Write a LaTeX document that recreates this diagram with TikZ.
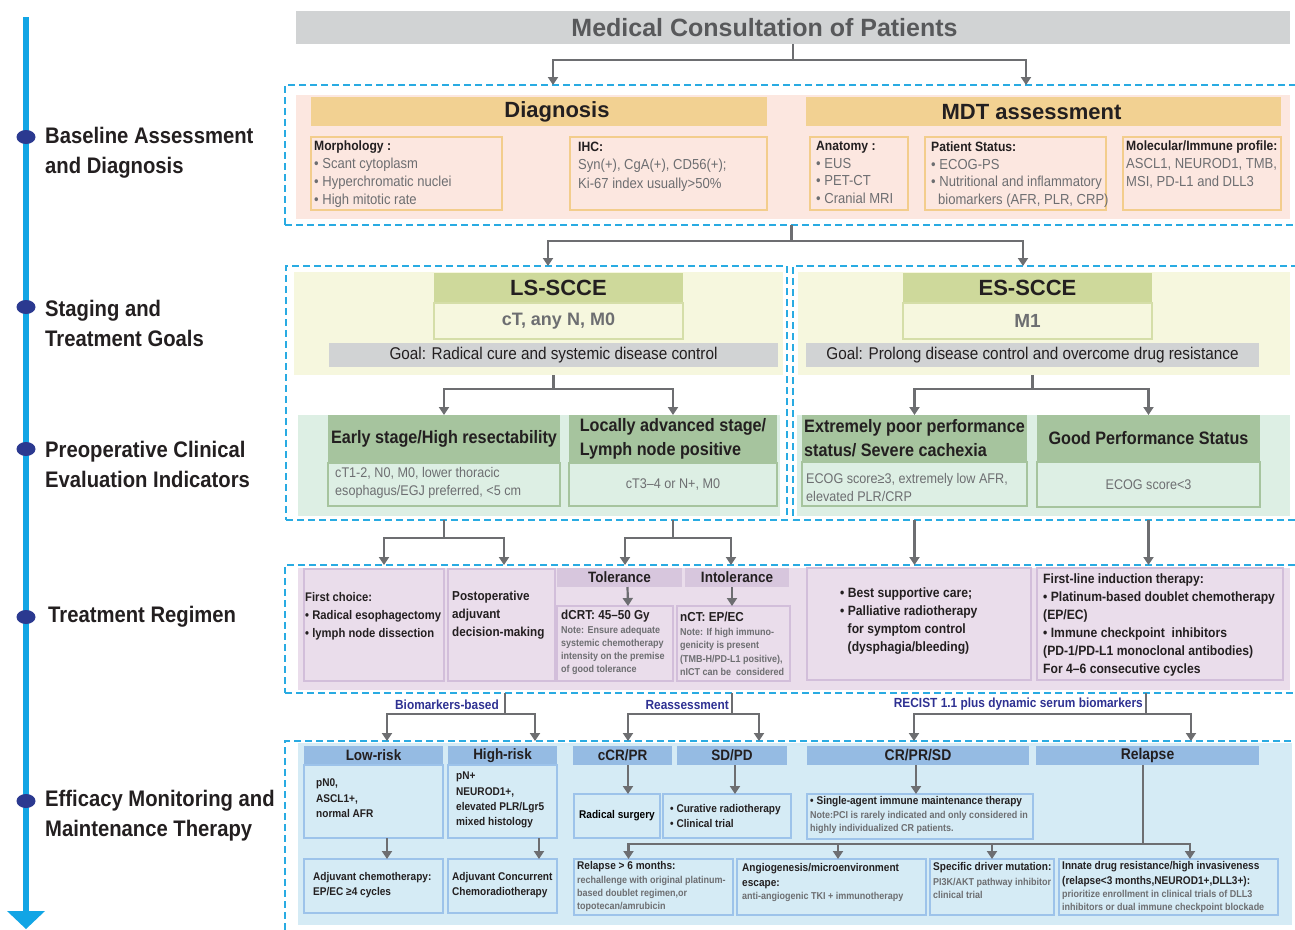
\documentclass[tikz,border=0pt]{standalone}
\usepackage{fontspec}
\setmainfont{Liberation Sans}
\newfontfamily\nfont{Liberation Sans}[FakeStretch=0.9]
\usetikzlibrary{arrows.meta}
\newcommand\setfs[2]{\nfont\fontsize{#1}{#2}\selectfont}

\definecolor{tdark}{HTML}{231F20}
\definecolor{tgray}{HTML}{6D6E71}
\definecolor{titg}{HTML}{58595B}
\definecolor{tblue}{HTML}{2E3192}
\definecolor{dashc}{HTML}{29ABE2}
\definecolor{barg}{HTML}{D1D3D4}
\definecolor{pinkbg}{HTML}{FCE7E0}
\definecolor{tanh}{HTML}{F2D192}
\definecolor{tanb}{HTML}{F3CD8C}
\definecolor{yelbg}{HTML}{F6F7DE}
\definecolor{olive}{HTML}{CED99B}
\definecolor{olivb}{HTML}{D5DEA8}
\definecolor{grnbg}{HTML}{DDEFE4}
\definecolor{sage}{HTML}{A6C49E}
\definecolor{purbg}{HTML}{EADDEB}
\definecolor{purb}{HTML}{D2BEDA}
\definecolor{purh}{HTML}{D7C6DD}
\definecolor{blubg}{HTML}{D5EBF5}
\definecolor{bluh}{HTML}{95BBE3}
\definecolor{blub}{HTML}{9DC3EA}
\definecolor{linec}{HTML}{6D6E71}
\definecolor{axisc}{HTML}{12A5E5}
\definecolor{dotc}{HTML}{2B3990}

\begin{document}
\begin{tikzpicture}[x=1pt, y=-1pt,
    sz/.style 2 args={minimum width=#1pt, minimum height=#2pt},
    rbox/.style={rectangle, inner sep=0pt, outer sep=0pt},
    section/.style={rbox, draw=dashc, line width=1.6pt, dash pattern=on 7pt off 4pt},
    panel/.style={rbox, fill=#1},
    head/.style={rbox, fill=#1, text=tdark},
    cell/.style={rbox, draw=#1, line width=1.2pt},
    body/.style={inner sep=0pt, anchor=west, align=left, text=tdark},
    bighead/.style={inner sep=0pt, text=tdark, font=\bfseries\fontsize{22}{26}\selectfont},
    note/.style={body, text=tgray, font=\setfs{10}{13}\bfseries},
    stage/.style={body, font=\setfs{22.5}{30}\bfseries},
    lbl/.style={inner sep=0pt, anchor=east, text=tblue, font=\setfs{13.2}{16}\bfseries},
    link/.style={draw=linec, line width=2.2pt},
    conn/.style={link, -{Triangle[width=10pt,length=8pt]}}]
\useasboundingbox (0,0) rectangle (1295,929);

% timeline
\draw[axisc, line width=6pt] (26,17) -- (26,913);
\fill[axisc] (7,911) -- (45,911) -- (26,929) -- cycle;
\foreach \yy in {137,307,449,617,801}
  \fill[dotc] (26,\yy) ellipse [x radius=9.5pt, y radius=7pt];
\node[stage] (st1) at (45,153) {Baseline Assessment\\and Diagnosis};
\node[stage] (st2) at (45,323) {Staging and\\Treatment Goals};
\node[stage] (st3) at (45,464.5) {Preoperative Clinical\\Evaluation Indicators};
\node[stage] (st4) at (48,617) {Treatment Regimen};
\node[stage] (st5) at (45,816) {Efficacy Monitoring and\\Maintenance Therapy};

% consultation
\node[head=barg, sz={994}{33}] (title) at (793,27.5) {};
\node[inner sep=0pt, text=titg, font=\bfseries\fontsize{25}{30}\selectfont] (titleT) at (764.5,27.5) {Medical Consultation of Patients};

% baseline assessment
\node[section, sz={1013}{140}] (sec1) at (791.5,155) {};
\node[panel=pinkbg, sz={994}{124}] (base) at (793,157) {};
\node[head=tanh, sz={456}{29}] (diag) at (539,111.5) {};
\node[head=tanh, sz={475}{29}] (mdt) at (1043.5,111.5) {};
\node[bighead] (diagT) at (557,112) {Diagnosis};
\node[bighead] (mdtT) at (1031.5,112) {MDT assessment};
\node[cell=tanb, sz={191}{73}] (morph) at (406.5,173.5) {};
\node[cell=tanb, sz={197}{73}] (ihc) at (668.5,173.5) {};
\node[cell=tanb, sz={98}{73}] (anat) at (859,173.5) {};
\node[cell=tanb, sz={181}{73}] (pstat) at (1015.5,173.5) {};
\node[cell=tanb, sz={158}{73}] (molec) at (1202,173.5) {};
\node[body, text=tgray, font=\setfs{14.5}{18}] (morphT) at (314,174) {\textcolor{tdark}{\fontsize{13.5}{18}\bfseries Morphology :}\\• Scant cytoplasm\\• Hyperchromatic nuclei\\• High mitotic rate};
\node[body, text=tgray, font=\setfs{14.5}{18.5}] (ihcT) at (578,166.5) {\textcolor{tdark}{\fontsize{13.5}{18.5}\bfseries IHC:}\\Syn(+), CgA(+), CD56(+);\\Ki-67 index usually>50\%};
\node[body, text=tgray, font=\setfs{14.5}{17.7}] (anatT) at (816,172.5) {\textcolor{tdark}{\fontsize{13.5}{17.7}\bfseries Anatomy :}\\• EUS\\• PET-CT\\• Cranial MRI};
\node[body, text=tgray, font=\setfs{14.5}{17.7}] (pstatT) at (931,174.5) {\textcolor{tdark}{\fontsize{13.5}{17.7}\bfseries Patient Status:}\\• ECOG-PS\\• Nutritional and inflammatory\\\hspace*{7pt}biomarkers (AFR, PLR, CRP)};
\node[body, text=tgray, font=\setfs{14.5}{18}] (molecT) at (1126,165) {\textcolor{tdark}{\fontsize{13.5}{18}\bfseries Molecular/Immune profile:}\\ASCL1, NEUROD1, TMB,\\MSI, PD-L1 and DLL3};

\coordinate (in1a) at (553,85);
\coordinate (in1b) at (1026,85);
\draw[conn] (title.south) -- ++(0,16) -| (in1a);
\draw[conn] (title.south) -- ++(0,16) -| (in1b);

% staging
\node[section, sz={501}{254}] (secL) at (536.5,393) {};
\node[section, sz={505}{254}] (secR) at (1045.5,393) {};
\coordinate (in2a) at (548,266);
\coordinate (in2b) at (1023,266);
\draw[conn] (sec1.south) -- ++(0,16) -| (in2a);
\draw[conn] (sec1.south) -- ++(0,16) -| (in2b);

\node[panel=yelbg, sz={489}{103}] (stgL) at (538.5,323.5) {};
\node[panel=yelbg, sz={492}{103}] (stgR) at (1044,323.5) {};
\node[head=olive, sz={249}{30}, font=\bfseries\fontsize{22}{26}\selectfont] (lsH) at (558.5,288) {LS-SCCE};
\node[cell=olivb, fill=yelbg, sz={249}{36}, text=tgray, font=\bfseries\fontsize{18}{22}\selectfont] (lsS) at (558.5,321) {cT, any N, M0};
\node[head=barg, sz={449}{24}, font=\setfs{17}{20}] (lsG) at (553.5,355) {Goal: Radical cure and systemic disease control};
\node[head=olive, sz={249}{30}, font=\bfseries\fontsize{22}{26}\selectfont] (esH) at (1027.5,288) {ES-SCCE};
\node[cell=olivb, fill=yelbg, sz={249}{36}, text=tgray, font=\bfseries\fontsize{19}{22}\selectfont] (esS) at (1027.5,321) {M1};
\node[head=barg, sz={453}{24}, font=\setfs{17}{20}] (esG) at (1032.5,355) {Goal: Prolong disease control and overcome drug resistance};

% preoperative evaluation
\node[panel=grnbg, sz={482}{101}] (prepL) at (539,465.5) {};
\node[panel=grnbg, sz={493}{101}] (prepR) at (1043.5,465.5) {};
\node[head=sage, sz={232}{48}, align=left, font=\setfs{18}{24}\bfseries] (earlyH) at (444,439) {Early stage/High resectability};
\node[head=sage, sz={208}{48}, align=left, font=\setfs{18}{24}\bfseries] (locH) at (673,439) {Locally advanced stage/\\Lymph node positive};
\node[head=sage, sz={225}{47}, align=left, font=\setfs{18}{24}\bfseries] (poorH) at (914.5,438.5) {Extremely poor performance\\status/ Severe cachexia};
\node[head=sage, sz={223}{47}, align=left, font=\setfs{18}{24}\bfseries] (goodH) at (1148.5,438.5) {Good Performance Status};
\node[cell=sage, fill=grnbg, sz={232}{43}] (earlyS) at (444,484.5) {};
\node[cell=sage, fill=grnbg, sz={208}{43}, text=tgray, font=\setfs{14}{18}] (locS) at (673,484.5) {cT3–4 or N+, M0};
\node[cell=sage, fill=grnbg, sz={225}{44}] (poorS) at (914.5,484) {};
\node[cell=sage, fill=grnbg, sz={223}{45}, text=tgray, font=\setfs{14}{18}] (goodS) at (1148.5,484.5) {ECOG score<3};
\node[body, text=tgray, font=\setfs{14}{18}] (earlyT) at (335,483) {cT1-2, N0, M0, lower thoracic\\esophagus/EGJ preferred, <5 cm};
\node[body, text=tgray, font=\setfs{14}{18}] (poorT) at (806,487) {ECOG score≥3, extremely low AFR,\\elevated PLR/CRP};

\draw[conn] (lsG.south |- stgL.south) -- ++(0,14) -| (earlyH.north);
\draw[conn] (lsG.south |- stgL.south) -- ++(0,14) -| (locH.north);
\draw[conn] (esG.south |- stgR.south) -- ++(0,14) -| (poorH.north);
\draw[conn] (esG.south |- stgR.south) -- ++(0,14) -| (goodH.north);

% treatment regimen
\node[section, sz={1013}{128}] (sec4) at (791.5,629) {};
\node[panel=purbg, sz={992}{122}] (trt) at (794,629) {};
\node[cell=purb, sz={140}{112}] (first) at (374,625) {};
\node[cell=purb, sz={107}{112}] (postop) at (501.5,625) {};
\node[head=purh, sz={125}{19}, font=\setfs{15}{18}\bfseries] (tolH) at (619.5,577.5) {Tolerance};
\node[head=purh, sz={104}{19}, font=\setfs{15}{18}\bfseries] (intH) at (737,577.5) {Intolerance};
\node[cell=purb, sz={116}{75}] (dcrt) at (615,643.5) {};
\node[cell=purb, sz={113}{75}] (nct) at (733.5,643.5) {};
\node[cell=purb, sz={224}{112}] (best) at (919,624) {};
\node[cell=purb, sz={246}{112}] (fline) at (1160,624) {};
\node[body, font=\setfs{12.5}{18}\bfseries] (firstT) at (305,616) {First choice:\\• Radical esophagectomy\\• lymph node dissection};
\node[body, font=\setfs{13}{18}\bfseries] (postopT) at (452,615) {Postoperative\\adjuvant\\decision-making};
\node[body, font=\setfs{13}{18}\bfseries] (dcrtT) at (561,616) {dCRT: 45–50 Gy};
\node[note] (dcrtN) at (561,650.5) {Note: Ensure adequate\\systemic chemotherapy\\intensity on the premise\\of good tolerance};
\node[body, font=\setfs{13}{18}\bfseries] (nctT) at (680,617) {nCT: EP/EC};
\node[note, font=\setfs{10}{13.3}\bfseries] (nctN) at (680,652) {Note: If high immuno-\\genicity is present\\(TMB-H/PD-L1 positive),\\nICT can be\ \ considered};
\node[body, font=\setfs{13.5}{18}\bfseries] (bestT) at (840,621) {• Best supportive care;\\• Palliative radiotherapy\\\hspace*{7.5pt}for symptom control\\\hspace*{7.5pt}(dysphagia/bleeding)};
\node[body, font=\setfs{13.5}{18}\bfseries] (flineT) at (1043,625) {First-line induction therapy:\\• Platinum-based doublet chemotherapy\\(EP/EC)\\• Immune checkpoint\ \ inhibitors\\(PD-1/PD-L1 monoclonal antibodies)\\For 4–6 consecutive cycles};
\draw[conn] ([xshift=8pt]tolH.south) -- ([xshift=13pt]dcrt.north);
\draw[conn] ([xshift=-5pt]intH.south) -- ([xshift=-1.5pt]nct.north);

\coordinate (in4a) at (384,565);
\coordinate (in4b) at (504,565);
\coordinate (in4c) at (625,565);
\coordinate (in4d) at (731,565);
\draw[conn] (earlyS.south |- secL.south) -- ++(0,18) -| (in4a);
\draw[conn] (earlyS.south |- secL.south) -- ++(0,18) -| (in4b);
\draw[conn] (locS.south |- secL.south) -- ++(0,18) -| (in4c);
\draw[conn] (locS.south |- secL.south) -- ++(0,18) -| (in4d);
\draw[conn] (poorS.south |- secR.south) -- (poorS.south |- sec4.north);
\draw[conn] (goodS.south |- secR.south) -- (goodS.south |- sec4.north);

% efficacy monitoring
\node[section, sz={1013}{190}] (sec5) at (791.5,836) {};
\node[panel=blubg, sz={994}{182}] (eff) at (795,834) {};
\node[head=bluh, sz={139}{19}, font=\setfs{15}{18}\bfseries] (lowH) at (373.5,755.5) {Low-risk};
\node[head=bluh, sz={109}{19}, font=\setfs{15}{18}\bfseries] (highH) at (502.5,755.5) {High-risk};
\node[head=bluh, sz={99}{19}, font=\setfs{15}{18}\bfseries] (ccrH) at (622.5,755.5) {cCR/PR};
\node[head=bluh, sz={110}{19}, font=\setfs{15}{18}\bfseries] (sdH) at (732,755.5) {SD/PD};
\node[head=bluh, sz={222}{19}, font=\setfs{15.5}{18}\bfseries] (crH) at (918,755.5) {CR/PR/SD};
\node[head=bluh, sz={223}{19}, font=\setfs{15.5}{18}\bfseries] (relH) at (1147.5,755.5) {Relapse};
\node[cell=blub, sz={139}{73}] (lowB) at (373.5,801.5) {};
\node[cell=blub, sz={109}{73}] (highB) at (502.5,801.5) {};
\node[cell=blub, sz={139}{54}] (adjC) at (373.5,886) {};
\node[cell=blub, sz={109}{54}] (adjR) at (502.5,886) {};
\node[cell=blub, sz={86}{44}, font=\setfs{11.2}{15}\bfseries] (surg) at (617,816) {Radical surgery};
\node[cell=blub, sz={128}{44}] (cur) at (727,816) {};
\node[cell=blub, sz={226}{45}] (single) at (920,816.5) {};
\node[cell=blub, sz={159}{56}] (r6) at (653.5,887) {};
\node[cell=blub, sz={189}{56}] (angio) at (831.5,887) {};
\node[cell=blub, sz={124}{56}] (spec) at (992,887) {};
\node[cell=blub, sz={219}{56}] (innate) at (1168.5,887) {};
\node[body, font=\setfs{11.2}{15.5}\bfseries] (lowT) at (316,798.5) {pN0,\\ASCL1+,\\normal AFR};
\node[body, font=\setfs{11.2}{15.3}\bfseries] (highT) at (456,800) {pN+\\NEUROD1+,\\elevated PLR/Lgr5\\mixed histology};
\node[body, font=\setfs{11.2}{15}\bfseries] (adjCT) at (313,885.5) {Adjuvant chemotherapy:\\EP/EC ≥4 cycles};
\node[body, font=\setfs{11.2}{15}\bfseries] (adjRT) at (452,885.5) {Adjuvant Concurrent\\Chemoradiotherapy};
\node[body, font=\setfs{11.2}{15}\bfseries] (curT) at (670,815.5) {• Curative radiotherapy\\• Clinical trial};
\node[body, font=\setfs{11.2}{15}\bfseries] (singleT) at (810,802) {• Single-agent immune maintenance therapy};
\node[note] (singleN) at (810,822.5) {Note:PCI is rarely indicated and only considered in\\highly individualized CR patients.};
\node[body, font=\setfs{11.2}{15}\bfseries] (r6T) at (577,867) {Relapse > 6 months:};
\node[note] (r6N) at (577,894) {rechallenge with original platinum-\\based doublet regimen,or\\topotecan/amrubicin};
\node[body, font=\setfs{11.2}{15}\bfseries] (angioT) at (742,876.5) {Angiogenesis/microenvironment\\escape:};
\node[note] (angioN) at (742,897) {anti-angiogenic TKI + immunotherapy};
\node[body, font=\setfs{11.2}{15}\bfseries] (specT) at (933,868) {Specific driver mutation:};
\node[note] (specN) at (933,888.5) {PI3K/AKT pathway inhibitor\\clinical trial};
\node[body, font=\setfs{11.2}{15}\bfseries] (innateT) at (1062,874.5) {Innate drug resistance/high invasiveness\\(relapse<3 months,NEUROD1+,DLL3+):};
\node[note] (innateN) at (1062,901.5) {prioritize enrollment in clinical trials of DLL3\\inhibitors or dual immune checkpoint blockade};

\coordinate (bm) at (505,693);
\coordinate (ra) at (732,693);
\coordinate (rc) at (1146,693);
\coordinate (in5a) at (387,741);
\coordinate (in5b) at (535,741);
\coordinate (in5c) at (628,741);
\coordinate (in5d) at (759,741);
\coordinate (in5e) at (914,741);
\coordinate (in5f) at (1191,741);
\draw[conn] (bm) -- ++(0,21) -| (in5a);
\draw[conn] (bm) -- ++(0,21) -| (in5b);
\draw[conn] (ra) -- ++(0,21) -| (in5c);
\draw[conn] (ra) -- ++(0,21) -| (in5d);
\draw[conn] (rc) -- ++(0,21) -| (in5e);
\draw[conn] (rc) -- ++(0,21) -| (in5f);
\node[lbl] (bmL) at (499,705) {Biomarkers-based};
\node[lbl] (raL) at (729,705) {Reassessment};
\node[lbl] (rcL) at (1143,704) {RECIST 1.1 plus dynamic serum biomarkers};

\draw[conn] ([xshift=13.5pt]lowB.south) -- ([xshift=13.5pt]adjC.north);
\draw[conn] ([xshift=36.5pt]highB.south) -- ([xshift=36.5pt]adjR.north);
\draw[conn] ([xshift=5.5pt]ccrH.south) -- ([xshift=11pt]surg.north);
\draw[conn] ([xshift=3pt]sdH.south) -- ([xshift=8pt]cur.north);
\draw[conn] ([xshift=-2pt]crH.south) -- ([xshift=-4pt]single.north);
\draw[conn] ([xshift=-4.5pt]relH.south) -- ++(0,79) -| ([xshift=-25pt]r6.north);
\draw[conn] ([xshift=-4.5pt]relH.south) -- ++(0,79) -| ([xshift=6.5pt]angio.north);
\draw[conn] ([xshift=-4.5pt]relH.south) -- ++(0,79) -| (spec.north);
\draw[conn] ([xshift=-4.5pt]relH.south) -- ++(0,79) -| ([xshift=21.5pt]innate.north);
\end{tikzpicture}
\end{document}
